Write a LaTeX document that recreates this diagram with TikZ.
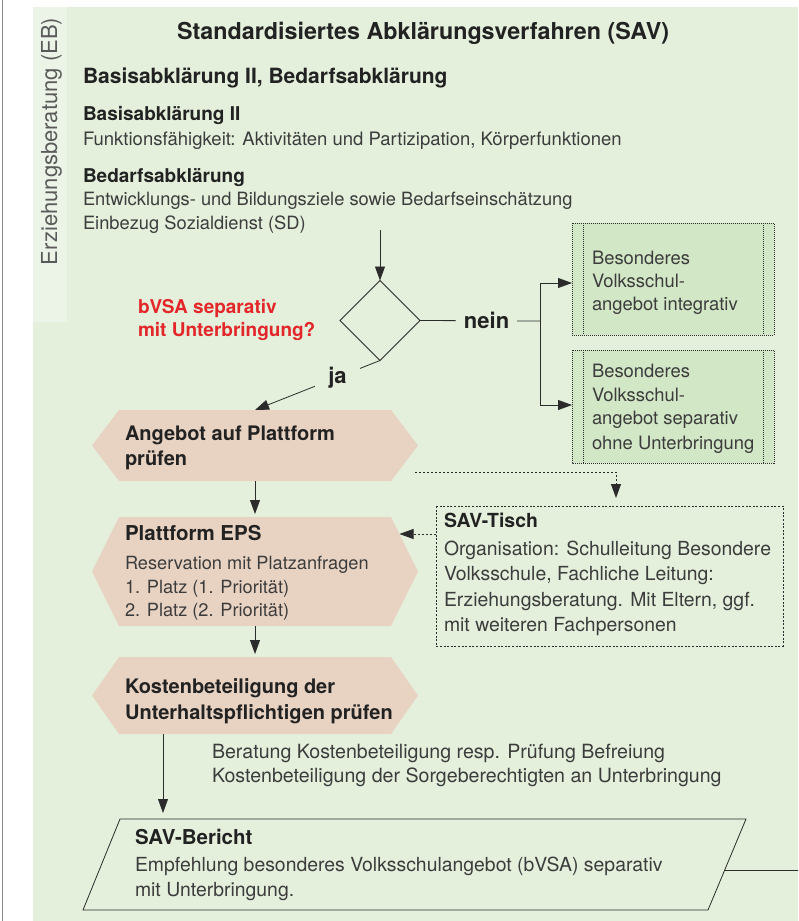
\documentclass[tikz,border=0pt]{standalone}
\usepackage{fontspec}
\setmainfont{TeX Gyre Heros}
\usetikzlibrary{arrows.meta,shapes.geometric,calc}
\definecolor{bg}{HTML}{E4F0DC}
\definecolor{strip}{HTML}{ECF4E7}
\definecolor{boxg}{HTML}{D2E7C6}
\definecolor{hexc}{HTML}{E8D3C3}
\definecolor{redt}{HTML}{E3262A}
\definecolor{txt}{HTML}{3C3C3C}
\definecolor{dark}{HTML}{222222}
\definecolor{ln}{HTML}{2B2B2B}
\definecolor{frame}{HTML}{8A8A8A}
\definecolor{sidet}{HTML}{5A5A5A}
\newcommand\myfs[1]{\fontsize{#1}{#1}\selectfont}
\begin{document}
\begin{tikzpicture}[x=1pt,y=-1pt,
  every node/.style={inner sep=0pt, outer sep=0pt},
  reg/.style={anchor=base west, text=txt, font=\myfs{#1}},
  reg/.default=18.3,
  bld/.style={anchor=base west, text=dark, font=\bfseries\myfs{#1}},
  bld/.default=19,
  arr/.style={draw=ln, line width=0.8pt, -{Triangle[length=14pt,width=10pt]}},
  darr/.style={draw=ln, line width=0.8pt, dash pattern=on 2pt off 2pt, -{Triangle[length=14pt,width=10pt]}},
  invis/.style={rectangle, draw=none, minimum width=#1},
  gbox/.style={fill=boxg, draw=ln, line width=0.7pt, dash pattern=on 1pt off 1pt},
  lbl/.style={fill=bg, text=dark, font=\bfseries\myfs{22}}
]
\useasboundingbox (0,0) rectangle (798,921);
% backgrounds
\fill[bg] (33,7) rectangle (798,921);
\fill[strip] (33,7) rectangle (67,322);
\draw[frame, line width=1.2pt] (2.5,0) -- (2.5,921);

\node[rotate=90, anchor=base west, text=sidet, font=\myfs{22}] (eb) at (57,265) {Erziehungsberatung (EB)};

% header texts
\node[bld=23.3] (title) at (177,39.5) {Standardisiertes Abklärungsverfahren (SAV)};
\node[bld=21] (head) at (83,83.3) {Basisabklärung II, Bedarfsabklärung};
\node[bld] (ba) at (83,120.7) {Basisabklärung II};
\node[reg=18.5] (bat) at (83,145.5) {Funktionsfähigkeit: Aktivitäten und Partizipation, Körperfunktionen};
\node[bld] (bd) at (83,182.7) {Bedarfsabklärung};
\node[reg] (bdt1) at (83,205.7) {Entwicklungs- und Bildungsziele sowie Bedarfseinschätzung};
\node[reg] (bdt2) at (83,229.3) {Einbezug Sozialdienst (SD)};

% decision
\coordinate (start) at (380,230);
\node[diamond, draw=ln, line width=0.8pt, minimum width=80pt, minimum height=80pt] (dia) at (380,320.5) {};
\draw[arr] (start) -- (dia.north);
\node[bld=19, text=redt] (q1) at (138,313.3) {bVSA separativ};
\node[bld=19, text=redt] (q2) at (138,336.7) {mit Unterbringung?};

% green boxes
\node[invis=202pt, minimum height=112pt] (b1) at (673,279) {};
\node[invis=202pt, minimum height=113pt] (b2) at (673,406.5) {};
\foreach \b in {b1,b2}{
  \path[gbox] (\b.north west) rectangle (\b.south east);
  \draw[ln, line width=0.7pt, dash pattern=on 1pt off 1pt] ([xshift=11pt]\b.north west) -- ([xshift=11pt]\b.south west);
  \draw[ln, line width=0.7pt, dash pattern=on 1pt off 1pt] ([xshift=-11pt]\b.north east) -- ([xshift=-11pt]\b.south east);
}
\node[reg=18.4] (b1a) at (592,264) {Besonderes};
\node[reg=18.4] (b1b) at (592,287.3) {Volksschul-};
\node[reg=18.4] (b1c) at (592,310.7) {angebot integrativ};
\node[reg=18.4] (b2a) at (592,377.3) {Besonderes};
\node[reg=18.4] (b2b) at (592,401) {Volksschul-};
\node[reg=18.4] (b2c) at (592,424.3) {angebot separativ};
\node[reg=18.4] (b2d) at (592,449) {ohne Unterbringung};

% nein branch
\coordinate (jn) at (540,321);
\draw[ln, line width=0.8pt] (dia.east) -- node[lbl, pos=0.555, inner xsep=8pt, inner ysep=2pt] (nein) {nein} (jn);
\draw[arr] (jn) |- ([yshift=-4pt]b1.west);
\draw[arr] (jn) |- ([yshift=1.5pt]b2.west);

% hexagons
\node[invis=326pt, minimum height=71pt] (h1) at (255,445.5) {};
\node[invis=326pt, minimum height=109pt] (h2) at (255,571.5) {};
\node[invis=326pt, minimum height=77pt] (h3) at (255,695.5) {};
\foreach \h in {h1,h2,h3}{
  \fill[hexc] (\h.west) -- ([xshift=27pt]\h.north west) -- ([xshift=-27pt]\h.north east) -- (\h.east) -- ([xshift=-27pt]\h.south east) -- ([xshift=27pt]\h.south west) -- cycle;
}
\node[bld=20] (h1a) at (125,440) {Angebot auf Plattform};
\node[bld=20] (h1b) at (125,465.7) {prüfen};
\node[bld=20.5] (h2a) at (125,540) {Plattform EPS};
\node[reg=18.2] (h2b) at (125,569.3) {Reservation mit Platzanfragen};
\node[reg=18.2] (h2c) at (125,593.3) {1. Platz (1. Priorität)};
\node[reg=18.2] (h2d) at (125,616.7) {2. Platz (2. Priorität)};
\node[bld=20] (h3a) at (125,693.3) {Kostenbeteiligung der};
\node[bld=20] (h3b) at (125,719.3) {Unterhaltspflichtigen prüfen};

% ja branch
\draw[arr] (dia.south) -- node[lbl, pos=0.34, inner xsep=13pt, inner ysep=3pt] (ja) {ja} (h1.north);
\draw[arr, shorten >=3pt] (h1.south) -- (h2.north);
\draw[arr, shorten >=3pt] (h2.south) -- (h3.north);

% SAV-Tisch
\node[invis=347pt, minimum height=140pt] (tisch) at (609.5,576) {};
\draw[ln, line width=0.7pt, dash pattern=on 2pt off 1.6pt] (tisch.north west) rectangle (tisch.south east);
\node[bld=19.4] (ta) at (444,527.7) {SAV-Tisch};
\node[reg=19.4] (tb) at (444,555) {Organisation: Schulleitung Besondere};
\node[reg=19.4] (tc) at (444,580.5) {Volksschule, Fachliche Leitung:};
\node[reg=19.4] (td) at (444,606) {Erziehungsberatung. Mit Eltern, ggf.};
\node[reg=19.4] (te) at (444,631.7) {mit weiteren Fachpersonen};
\coordinate (dstart) at (415,472);
\coordinate (h2e) at (399.5,534);
\draw[darr, shorten >=8pt] (dstart) -| ([xshift=6.5pt]tisch.north);
\draw[darr] ([yshift=42pt]tisch.west) -- (h2e);

% cost note
\node[reg=19.6] (kb1) at (212,758.3) {Beratung Kostenbeteiligung resp. Prüfung Befreiung};
\node[reg=19.6] (kb2) at (212,782.7) {Kostenbeteiligung der Sorgeberechtigten an Unterbringung};

% SAV-Bericht
\node[invis=663pt, minimum height=91pt] (sb) at (414.5,864.5) {};
\draw[ln, line width=0.8pt] (sb.south west) -- ([xshift=37pt]sb.north west) -- (sb.north east) -- ([xshift=-38pt]sb.south east) -- cycle;
\draw[arr, shorten >=6pt] ([xshift=-92pt]h3.south) -- ([xshift=80pt]sb.north west);
\node[bld=20.5] (sba) at (135,844) {SAV-Bericht};
\node[reg=19.4] (sbb) at (135,871.7) {Empfehlung besonderes Volksschulangebot (bVSA) separativ};
\node[reg=19.4] (sbc) at (135,896) {mit Unterbringung.};
\coordinate (sbr) at (724.7,870);
\coordinate (rend) at (798,870);
\draw[ln, line width=0.8pt] (sbr) -- (rend);
\end{tikzpicture}
\end{document}
